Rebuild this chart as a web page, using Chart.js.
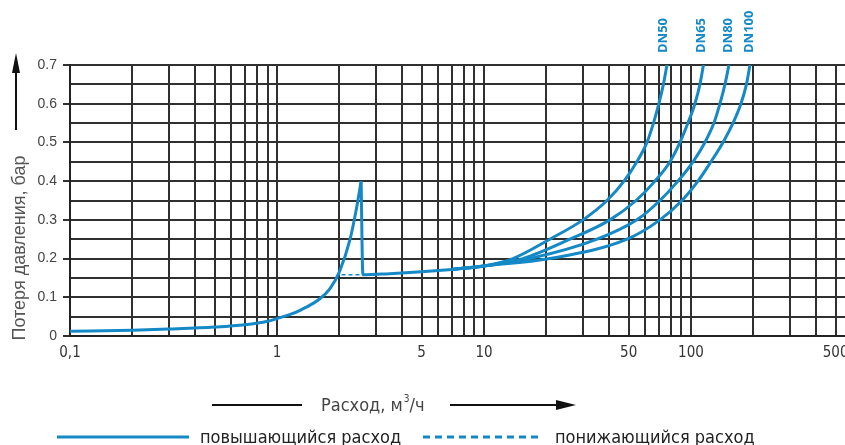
<!DOCTYPE html>
<html>
<head>
<meta charset="utf-8">
<script src="https://cdn.jsdelivr.net/npm/chart.js@4.4.1/dist/chart.umd.min.js"></script>
<style>
html,body{margin:0;padding:0;background:#fff;}
#wrap{width:845px;height:445px;position:relative;}
</style>
</head>
<body>
<div id="wrap"><canvas id="c" width="845" height="445"></canvas></div>
<script>
// ---- data (flow m3/h, pressure loss bar) ----
const flowRise = [0.1, 0.2, 0.3, 0.5, 0.7, 0.9, 1.0, 1.15, 1.3, 1.6, 1.8, 2.0, 2.25, 2.43, 2.55];
const lossRise = [0.012, 0.015, 0.018, 0.023, 0.029, 0.038, 0.045, 0.055, 0.067, 0.095, 0.122, 0.165, 0.248, 0.334, 0.400];

const flowDrop = [2.55, 2.6, 3.5, 5, 7];
const lossDrop = [0.400, 0.158, 0.161, 0.166, 0.172];

const flowFall = [2.05, 2.58];
const lossFall = [0.158, 0.158];

const flowDN50 = [7, 10, 13.8, 20.8, 30.1, 39.3, 47.5, 54.8, 61.3, 65.9, 70.0, 73.6, 76.6];
const lossDN50 = [0.172, 0.181, 0.2, 0.25, 0.30, 0.35, 0.40, 0.45, 0.50, 0.55, 0.60, 0.65, 0.70];

const flowDN65 = [7, 10, 15.4, 26.0, 40.6, 54.3, 67.0, 79.2, 88.5, 96.7, 104.5, 110.5, 114.9];
const lossDN65 = [0.172, 0.181, 0.2, 0.25, 0.30, 0.35, 0.40, 0.45, 0.50, 0.55, 0.60, 0.65, 0.70];

const flowDN80 = [7, 10, 16.7, 35.2, 54.8, 70.8, 86.5, 102.3, 116.8, 129.1, 138.1, 146.0, 152.6];
const lossDN80 = [0.172, 0.181, 0.2, 0.25, 0.30, 0.35, 0.40, 0.45, 0.50, 0.55, 0.60, 0.65, 0.70];

const flowDN100 = [7, 10, 20.8, 49.1, 70.8, 90.5, 108.1, 124.9, 142.8, 159.6, 174.4, 185.4, 192.8];
const lossDN100 = [0.172, 0.181, 0.2, 0.25, 0.30, 0.35, 0.40, 0.45, 0.50, 0.55, 0.60, 0.65, 0.70];

const seriesNames = ['DN50', 'DN65', 'DN80', 'DN100'];

const xGridValues = [0.1,0.2,0.3,0.4,0.5,0.6,0.7,0.8,0.9,1,2,3,4,5,6,7,8,9,10,20,30,40,50,60,70,80,90,100,200,300,400,500];
const xTickLabels = ['0,1','','','','','','','','','1','','','','5','','','','','10','','','','50','','','','','100','','','','500'];
const yGridValues = [0,0.05,0.1,0.15,0.2,0.25,0.3,0.35,0.4,0.45,0.5,0.55,0.6,0.65,0.7];
const yTickLabels = ['0','','0.1','','0.2','','0.3','','0.4','','0.5','','0.6','','0.7'];

const yTitle = 'Потеря давления, бар';
const xTitleMain = 'Расход, м';
const xTitleSup = '3';
const xTitleEnd = '/ч';
const legendRise = 'повышающийся расход';
const legendFall = 'понижающийся расход';

// ---- styles ----
const BLUE = '#1489c6';
const GRID = '#303030';
const pts = (xs, ys) => xs.map((x, i) => ({x: x, y: ys[i]}));
const lineDs = (xs, ys) => ({
  data: pts(xs, ys), borderColor: BLUE, borderWidth: 3, pointRadius: 0,
  cubicInterpolationMode: 'monotone', fill: false
});

const narrow = '"Liberation Sans Narrow", "DejaVu Sans Condensed", "Liberation Sans", sans-serif';

const decor = {
  id: 'decor',
  afterDraw(chart) {
    const ctx = chart.ctx;
    ctx.save();
    // y arrow
    ctx.strokeStyle = '#111'; ctx.fillStyle = '#111'; ctx.lineWidth = 2;
    ctx.beginPath(); ctx.moveTo(16, 130); ctx.lineTo(16, 68); ctx.stroke();
    ctx.beginPath(); ctx.moveTo(16, 53); ctx.lineTo(12, 73); ctx.lineTo(20, 73); ctx.closePath(); ctx.fill();
    // y title
    ctx.save();
    ctx.translate(20, 248); ctx.rotate(-Math.PI / 2);
    ctx.font = '18px "Liberation Sans", Arial, sans-serif';
    ctx.fillStyle = '#555'; ctx.textAlign = 'center'; ctx.textBaseline = 'middle';
    ctx.fillText(yTitle, 0, 0, 196);
    ctx.restore();
    // x title with arrows
    ctx.strokeStyle = '#111'; ctx.lineWidth = 2;
    ctx.beginPath(); ctx.moveTo(212, 405); ctx.lineTo(302, 405); ctx.stroke();
    ctx.beginPath(); ctx.moveTo(450, 405); ctx.lineTo(562, 405); ctx.stroke();
    ctx.beginPath(); ctx.moveTo(576, 405); ctx.lineTo(556, 400); ctx.lineTo(556, 410); ctx.closePath(); ctx.fill();
    ctx.fillStyle = '#444'; ctx.textAlign = 'left'; ctx.textBaseline = 'alphabetic';
    let tx = 321;
    ctx.font = '18px ' + narrow;
    ctx.fillText(xTitleMain, tx, 411);
    tx += ctx.measureText(xTitleMain).width;
    ctx.font = '10px ' + narrow;
    ctx.fillText(xTitleSup, tx + 1, 402);
    tx += ctx.measureText(xTitleSup).width + 1;
    ctx.font = '18px ' + narrow;
    ctx.fillText(xTitleEnd, tx, 411);
    // legend
    ctx.strokeStyle = BLUE; ctx.lineWidth = 3;
    ctx.beginPath(); ctx.moveTo(57, 437); ctx.lineTo(189, 437); ctx.stroke();
    ctx.setLineDash([7, 5]);
    ctx.beginPath(); ctx.moveTo(423, 437); ctx.lineTo(541, 437); ctx.stroke();
    ctx.setLineDash([]);
    ctx.font = '18px ' + narrow; ctx.fillStyle = '#222';
    ctx.fillText(legendRise, 200, 443, 204);
    ctx.fillText(legendFall, 555, 443, 200);
    // DN labels
    const dnPos = [663, 701, 728, 749];
    ctx.font = 'bold 13px "Open Sans", "Liberation Sans", sans-serif';
    ctx.fillStyle = BLUE; ctx.textBaseline = 'middle'; ctx.textAlign = 'left';
    seriesNames.forEach((n, i) => {
      ctx.save(); ctx.translate(dnPos[i], 53); ctx.rotate(-Math.PI / 2);
      ctx.fillText(n, 0, 0); ctx.restore();
    });
    ctx.restore();
  }
};

new Chart(document.getElementById('c'), {
  type: 'line',
  data: {
    datasets: [
      Object.assign(lineDs(flowFall, lossFall), {borderWidth: 1.5, borderDash: [4, 3], cubicInterpolationMode: 'default', tension: 0}),
      lineDs(flowRise, lossRise),
      lineDs(flowDrop, lossDrop),
      lineDs(flowDN50, lossDN50),
      lineDs(flowDN65, lossDN65),
      lineDs(flowDN80, lossDN80),
      lineDs(flowDN100, lossDN100)
    ]
  },
  options: {
    responsive: false, animation: false,
    layout: {padding: {top: 65, right: 0, left: 0, bottom: 0}},
    plugins: {legend: {display: false}, tooltip: {enabled: false}},
    scales: {
      x: {
        type: 'logarithmic', min: 0.1, max: 555,
        afterBuildTicks(s) { s.ticks = xGridValues.map(v => ({value: v})); },
        afterFit(s) { s.height = 109; s.paddingLeft = 0; s.paddingRight = 0; },
        ticks: {
          autoSkip: false, maxRotation: 0, padding: 8, color: '#333',
          font: {family: narrow, size: 15},
          callback: (v, i) => xTickLabels[i]
        },
        grid: {color: GRID, lineWidth: 2, drawTicks: false},
        border: {color: '#222', width: 2}
      },
      y: {
        type: 'linear', min: 0, max: 0.7,
        afterBuildTicks(s) { s.ticks = yGridValues.map(v => ({value: v})); },
        afterFit(s) { s.width = 70; },
        ticks: {
          autoSkip: false, padding: 6, color: '#444',
          font: {family: '"Liberation Sans", Arial, sans-serif', size: 14},
          callback: (v, i) => yTickLabels[i]
        },
        grid: {
          color: GRID, lineWidth: 2, tickLength: 7,
          tickColor: (c) => (c.tick && yTickLabels[c.index] !== '' ? GRID : 'rgba(0,0,0,0)')
        },
        border: {color: '#222', width: 2}
      }
    }
  },
  plugins: [decor]
});
</script>
</body>
</html>
